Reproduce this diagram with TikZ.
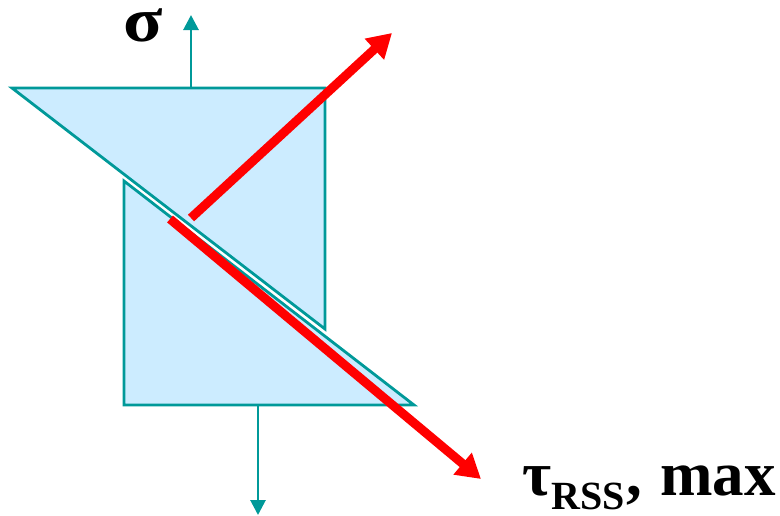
\documentclass[tikz,border=0pt]{standalone}
\usepackage{fontspec}
\setmainfont{Liberation Serif}
\usetikzlibrary{arrows.meta}
\definecolor{tealline}{RGB}{0,153,153}
\definecolor{paleblue}{RGB}{204,236,255}
\tikzset{
  x=1pt,y=-1pt,
  block/.style={draw=tealline,fill=paleblue,line width=2.8pt,line join=miter},
  load/.style={draw=tealline,line width=2.8pt,-{Triangle[length=15pt,width=15pt,fill=tealline]}},
  shear/.style={draw=red,line width=9pt,-{Triangle[length=24pt,width=27pt,fill=red]}},
  lab/.style={inner sep=0pt,anchor=base west,font=\bfseries}
}
\begin{document}
\begin{tikzpicture}
\useasboundingbox (0,0) rectangle (780,515);
\coordinate (uA) at (12,88);
\coordinate (uB) at (325,88);
\coordinate (uC) at (325,329);
\coordinate (lA) at (124,181);
\coordinate (lB) at (124,405);
\coordinate (lC) at (414,405);
\coordinate (topS) at (191,88);
\coordinate (topE) at (191,15);
\coordinate (botS) at (258,405);
\coordinate (botE) at (258,515);
\coordinate (s1S) at (191,218);
\coordinate (s1E) at (392,33);
\coordinate (s2S) at (170,219);
\coordinate (s2E) at (481,479);
\draw[block] (uA) -- (uB) -- (uC) -- cycle;
\draw[block] (lA) -- (lB) -- (lC) -- cycle;
\draw[load] (topS) -- (topE);
\draw[load] (botS) -- (botE);
\draw[shear] (s1S) -- (s1E);
\draw[shear] (s2S) -- (s2E);
\node[lab] (sigma) at (123,41) {\scalebox{1.15}[1]{\fontsize{63pt}{63pt}\selectfont σ}};
\node[lab] (tau) at (522,495) {\fontsize{63pt}{63pt}\selectfont τ\raisebox{-14pt}{\fontsize{40pt}{40pt}\selectfont RSS}\kern2pt,\kern2pt{} max};
\end{tikzpicture}
\end{document}
